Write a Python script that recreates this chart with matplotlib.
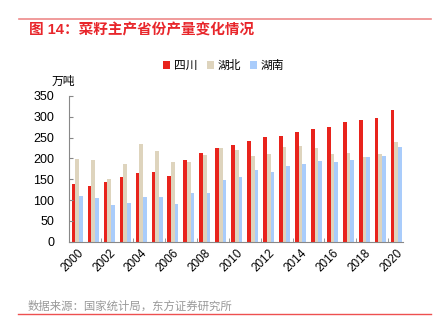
import matplotlib
matplotlib.use('Agg')
import matplotlib.pyplot as plt
import numpy as np

plt.rcParams['font.family'] = ['Liberation Sans', 'Noto Sans CJK SC', 'DejaVu Sans']

years = list(range(2000, 2021))
sichuan = [138, 134, 144, 155, 164, 168, 158, 195, 213, 225, 232,
           241, 251, 253, 264, 270, 276, 288, 292, 296, 316]
hubei = [199, 195, 151, 187, 235, 219, 191, 191, 208, 226, 220,
         205, 211, 227, 230, 225, 211, 212, 203, 211, 240]
hunan = [110, 106, 87, 93, 107, 108, 91, 117, 116, 148, 155,
         172, 167, 182, 187, 193, 191, 195, 203, 207, 228]
series = [('四川', sichuan, '#E8231C'),
          ('湖北', hubei, '#DED4BD'),
          ('湖南', hunan, '#A9CCFB')]

fig = plt.figure(figsize=(4.42, 3.22), dpi=100)
ax = fig.add_axes([0.156, 0.2494, 0.755, 0.4526])

x = np.arange(len(years))
w = 0.23
for k, (name, vals, col) in enumerate(series):
    ax.bar(x + (k - 1) * w, vals, width=w, color=col, label=name,
           edgecolor='none')

ax.set_xlim(-0.52, 20.4)
ax.set_ylim(0, 350)
ax.set_yticks(range(0, 351, 50))
ax.tick_params(axis='y', direction='in', length=3, color='#888888',
               labelsize=9, pad=10.5)

# minor ticks between year groups, labels every two years
ax.set_xticks(x[::2])
ax.set_xticklabels([str(y) for y in years[::2]], rotation=45,
                   ha='right', va='top', rotation_mode='anchor', fontsize=8.5)
ax.tick_params(axis='x', length=0, pad=4)
ax.set_xticks(x[::2] - 0.5, minor=True)
ax.tick_params(axis='x', which='minor', direction='in', length=3,
               color='#888888')

for s in ['top', 'right']:
    ax.spines[s].set_visible(False)
for s in ['left', 'bottom']:
    ax.spines[s].set_color('#888888')
    ax.spines[s].set_linewidth(0.8)

fig.text(0.143, 0.747, '万吨', fontsize=8.5, ha='center', va='center')

ax.legend(loc='center', ncol=3, frameon=False, fontsize=8.5, handlelength=0.6,
          handleheight=0.6, handletextpad=0.3, columnspacing=0.8)
leg = ax.get_legend()
leg.set_bbox_to_anchor((0.506, 0.795), transform=fig.transFigure)

fig.text(0.066, 0.907, '图 14：菜籽主产省份产量变化情况', fontsize=10.5,
         color='#E8262B', fontweight='bold', ha='left', va='center')
fig.add_artist(plt.Line2D([0.043, 0.975], [0.941, 0.941], color='#EE8A8A',
                          linewidth=1.2))
fig.text(0.063, 0.05, '数据来源：国家统计局，东方证券研究所', fontsize=8.2,
         color='#999999', ha='left', va='center')
fig.add_artist(plt.Line2D([0.04, 0.975], [0.025, 0.025], color='#EE5050',
                          linewidth=1.0))

fig.savefig('out.png', dpi=100)
